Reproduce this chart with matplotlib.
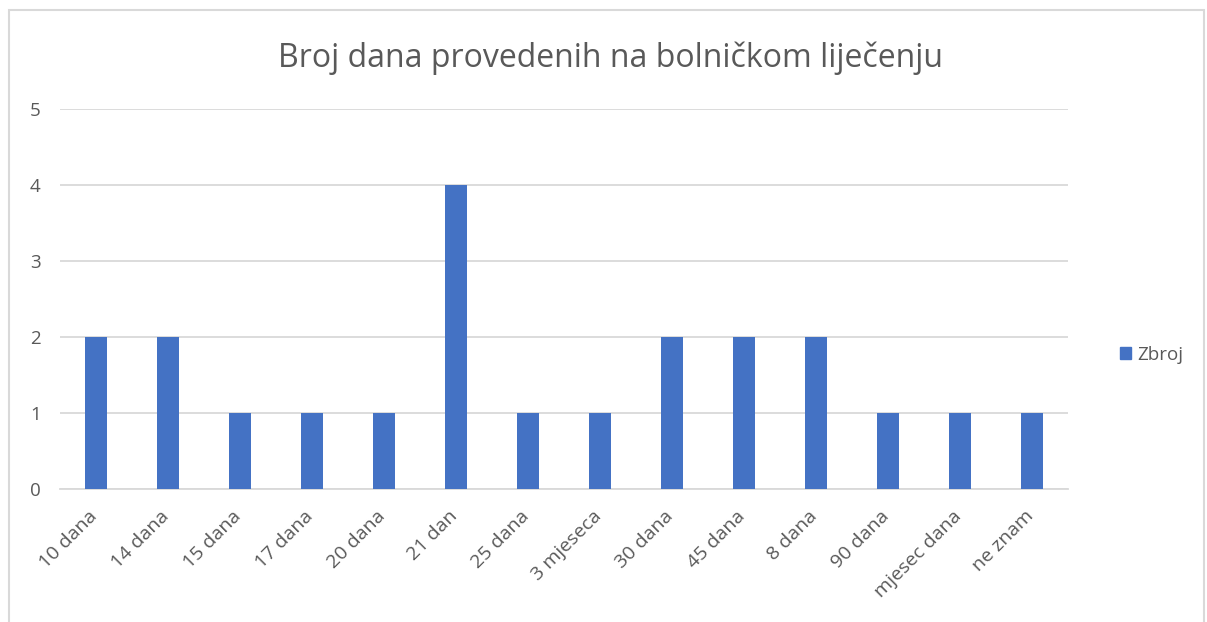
import matplotlib.pyplot as plt
from matplotlib.patches import Rectangle, Patch
from matplotlib.transforms import ScaledTranslation

# podaci
categories = ["10 dana", "14 dana", "15 dana", "17 dana", "20 dana", "21 dan",
              "25 dana", "3 mjeseca", "30 dana", "45 dana", "8 dana", "90 dana",
              "mjesec dana", "ne znam"]
counts = [2, 2, 1, 1, 1, 4, 1, 1, 2, 2, 2, 1, 1, 1]
y_ticks = [0, 1, 2, 3, 4, 5]

W, H = 1207, 622
bar_color = '#4472C4'
text_color = '#595959'
grid_color = '#D9D9D9'

plt.rcParams['font.family'] = ['Open Sans', 'DejaVu Sans']

fig = plt.figure(figsize=(W / 100, H / 100), dpi=100)

# okvir grafikona
fig.patches.append(Rectangle((9 / W, -0.1), (1204 - 9) / W, 1.1 - 10 / H,
                             transform=fig.transFigure, fill=False,
                             edgecolor='#D9D9D9', linewidth=1.5))

# područje crtanja
ax = fig.add_axes([60 / W, 1 - 489 / H, (1068 - 60) / W, (489 - 109) / H])
x = range(len(categories))
ax.bar(x, counts, width=0.31, color=bar_color, zorder=3, label='Zbroj')

ax.set_xlim(-0.5, len(categories) - 0.5)
ax.set_ylim(0, 5)
ax.set_yticks(y_ticks)
ax.set_yticklabels([str(t) for t in y_ticks], fontsize=13.5, color=text_color)
ax.set_xticks(list(x))
ax.set_xticklabels(categories, rotation=45, ha='right', rotation_mode='anchor',
                   fontsize=14, color=text_color)
ax.tick_params(axis='both', length=0)
ax.tick_params(axis='y', pad=14)
ax.tick_params(axis='x', pad=13)
shift = ScaledTranslation(-8 / 100, 0, fig.dpi_scale_trans)
for lbl in ax.get_xticklabels():
    lbl.set_transform(lbl.get_transform() + shift)

ax.grid(axis='y', color=grid_color, linewidth=1.3, zorder=0)
for side in ['top', 'right', 'left']:
    ax.spines[side].set_visible(False)
ax.spines['bottom'].set_color(grid_color)
ax.spines['bottom'].set_linewidth(1.3)

fig.text(610 / W, 1 - 58 / H, "Broj dana provedenih na bolničkom liječenju",
         ha='center', va='center', fontsize=23, color=text_color)

fig.legend(handles=[Patch(color=bar_color, label='Zbroj')],
           loc='center left', bbox_to_anchor=(1103 / W, 1 - 355 / H),
           frameon=False, fontsize=13.5, labelcolor=text_color,
           handlelength=0.6, handleheight=0.6, handletextpad=0.3)

fig.savefig('out.png', dpi=100, facecolor='white')
